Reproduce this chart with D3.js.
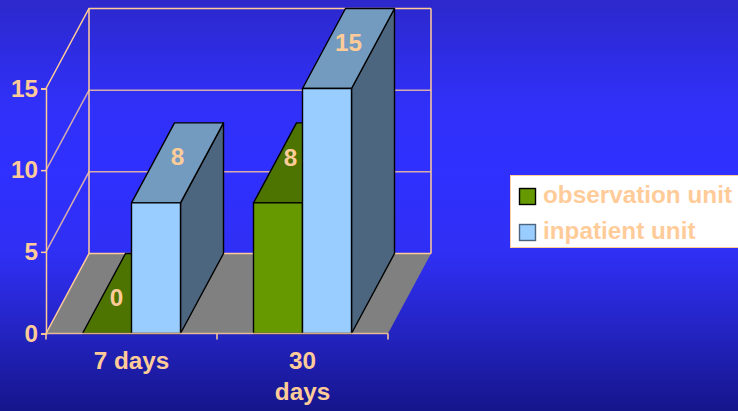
<!DOCTYPE html>
<html><head><meta charset="utf-8">
<script src="https://cdn.jsdelivr.net/npm/d3@7"></script>
<style>html,body{margin:0;padding:0;background:#3030ff;overflow:hidden}svg{display:block}
text{font-family:"Liberation Sans",Arial,sans-serif;font-weight:bold}</style></head>
<body><div id="c"></div>
<script>
const categories = ["7 days", "30 days"];
const categoryLines = [["7 days"], ["30", "days"]];
const seriesNames = ["observation unit", "inpatient unit"];
const observationValues = [0, 8];
const inpatientValues = [8, 15];
const yTicks = [0, 5, 10, 15];

const W = 738, H = 411;
const peach = "#ffcc99";
const fontSize = 24.3;
const styles = [
  {front:"#669900", top:"#4d7300", side:"#334d00", labelDx:[-12,-9], labelDy:[4,-5]},
  {front:"#99ccff", top:"#739abf", side:"#4d667f", labelDx:[0,0], labelDy:[-6,-6]}
];
const depth = {dx:43, dy:-80};
const x = d3.scaleBand().domain(categories).range([46, 388]);
const xInner = d3.scaleBand().domain(seriesNames).range([36.5, 134.5]);
const y = d3.scaleLinear().domain([0, 15]).range([333.5, 88.5]);

const svg = d3.select("#c").append("svg").attr("width", W).attr("height", H);
const grad = svg.append("defs").append("linearGradient").attr("id","bg").attr("x1",0).attr("x2",0).attr("y1",0).attr("y2",1);
[[0,"#2c28cc"],[0.25,"#3030f8"],[0.42,"#3030ff"],[0.62,"#2f2ff4"],[0.8,"#2424c4"],[1,"#15158c"]].forEach(s=>grad.append("stop").attr("offset",s[0]).attr("stop-color",s[1]));
svg.append("rect").attr("width",W).attr("height",H).attr("fill","url(#bg)");

const poly = pts => pts.map(p=>p.join(",")).join(" ");
const x0 = x.range()[0], x1 = x.range()[1], y0 = y(0), yT = y(15);

// floor
svg.append("polygon").attr("points",poly([[x0,y0],[x0+depth.dx,y0+depth.dy],[x1+depth.dx,y0+depth.dy],[x1,y0]])).attr("fill","#808080");

// walls and gridlines
const grid = svg.append("g").attr("fill","none").attr("stroke",peach);
yTicks.forEach(t=>{
  const yy = y(t), op = (t===0||t===15) ? 1 : 0.8;
  grid.append("path").attr("d",`M${x0},${yy}L${x0+depth.dx},${yy+depth.dy}L${x1+depth.dx},${yy+depth.dy}`).attr("stroke-width",1.5).attr("opacity",op);
});
grid.append("path").attr("d",`M${x0+depth.dx},${yT+depth.dy}V${y0+depth.dy}M${x1+depth.dx},${yT+depth.dy}V${y0+depth.dy}`).attr("stroke-width",1.5);

// bars
const barData = seriesNames.map((s,i)=>({s,i,values:i===0?observationValues:inpatientValues}));
const barsG = svg.append("g").attr("stroke","#000").attr("stroke-width",1.4).attr("stroke-linejoin","round");
categories.forEach((c,ci)=>{
  barData.forEach(b=>{
    const v = b.values[ci], st = styles[b.i];
    const l = x(c)+xInner(b.s), r = l+xInner.bandwidth(), t = y(v), B = y(0);
    const dx = depth.dx, dy = depth.dy;
    barsG.append("polygon").attr("points",poly([[r,B],[r+dx,B+dy],[r+dx,t+dy],[r,t]])).attr("fill",st.side);
    barsG.append("polygon").attr("points",poly([[l,t],[l+dx,t+dy],[r+dx,t+dy],[r,t]])).attr("fill",st.top);
    barsG.append("rect").attr("x",l).attr("y",t).attr("width",r-l).attr("height",B-t).attr("fill",st.front);
  });
});

// axes
const yAxis = svg.append("g").attr("transform",`translate(${x0},0)`)
  .call(d3.axisLeft(y).tickValues(yTicks).tickSize(5).tickPadding(3).tickFormat(d3.format("d")));
yAxis.selectAll("path,line").attr("stroke",peach).attr("stroke-width",1.5);
yAxis.selectAll("text").attr("fill",peach).attr("font-size",fontSize).style("font-family",'"Liberation Sans"').style("font-weight","bold");

const xEdges = [x0, x(categories[1]), x1];
const xAxis = svg.append("g").attr("stroke",peach).attr("stroke-width",1.5);
xAxis.append("line").attr("x1",x0).attr("x2",x1).attr("y1",y0).attr("y2",y0).attr("opacity",0.85);
xEdges.forEach(e=>xAxis.append("line").attr("x1",e).attr("x2",e).attr("y1",y0).attr("y2",y0+6));

categories.forEach((c,ci)=>{
  const t = svg.append("text").attr("fill",peach).attr("font-size",fontSize).attr("text-anchor","middle");
  categoryLines[ci].forEach((ln,li)=>t.append("tspan").attr("x",x(c)+x.bandwidth()/2).attr("y",369+li*31).text(ln));
});

// data labels
categories.forEach((c,ci)=>{
  barData.forEach(b=>{
    const v = b.values[ci], st = styles[b.i];
    const l = x(c)+xInner(b.s)+xInner.bandwidth()/2+depth.dx/2+st.labelDx[ci];
    svg.append("text").attr("x",l).attr("y",y(v)+depth.dy/2+st.labelDy[ci]).attr("dy","0.35em")
      .attr("text-anchor","middle").attr("fill",peach).attr("font-size",fontSize).text(v);
  });
});

// legend
const lg = svg.append("g");
lg.append("rect").attr("x",510.5).attr("y",175.5).attr("width",228).attr("height",72).attr("fill","#fff").attr("stroke",peach);
seriesNames.forEach((s,i)=>{
  const sy = 188+i*36;
  lg.append("rect").attr("x",519.5).attr("y",sy+.5).attr("width",16).attr("height",16).attr("fill",styles[i].front).attr("stroke",i===0?"#000":"#4d667f").attr("stroke-width",1.4);
  lg.append("text").attr("x",543).attr("y",sy+15).attr("fill",peach).attr("font-size",fontSize).text(s);
});
</script></body></html>
